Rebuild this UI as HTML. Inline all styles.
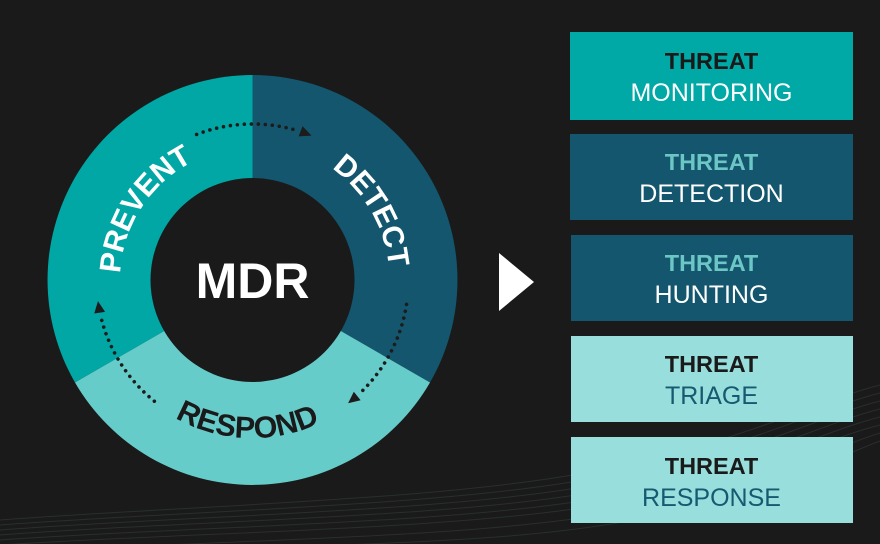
<!DOCTYPE html>
<html><head><meta charset="utf-8"><style>
html,body{margin:0;padding:0;background:#1a1a1a;}
svg{display:block;}
text{font-family:"Liberation Sans",sans-serif;}
</style></head><body>
<svg width="880" height="544" viewBox="0 0 880 544" xmlns="http://www.w3.org/2000/svg">
<rect width="880" height="544" fill="#1a1a1a"/>
<!-- subtle background waves -->
<g fill="none" stroke="#2c3434" stroke-width="1" opacity="0.8">
<path d="M0 520 C200 505 450 500 600 470 S820 400 880 385"/>
<path d="M0 525 C200 510 450 506 600 477 S820 408 880 393"/>
<path d="M0 530 C200 515 450 512 600 484 S820 416 880 401"/>
<path d="M0 535 C200 520 450 518 600 491 S820 424 880 409"/>
<path d="M0 540 C200 526 450 524 600 498 S820 432 880 417"/>
<path d="M0 545 C200 532 450 530 600 505 S820 440 880 425"/>
<path d="M100 548 C300 538 480 536 620 512 S830 448 880 433"/>
<path d="M200 550 C380 543 520 542 640 519 S840 456 880 441"/>
</g>
<!-- ring -->
<path d="M252.5 280 L252.5 75 A205 205 0 0 0 75 382.5 Z" fill="#00a7a5"/>
<path d="M252.5 280 L252.5 75 A205 205 0 0 1 430 382.5 Z" fill="#13566e"/>
<path d="M252.5 280 L75 382.5 A205 205 0 0 0 430 382.5 Z" fill="#66ccca"/>
<circle cx="252.5" cy="280" r="102" fill="#1a1a1a"/>
<defs>
<path id="pPrev" d="M146.7 359.7 A132.5 132.5 0 0 1 282.3 150.9"/>
<path id="pDet" d="M228.7 145.1 A137 137 0 0 1 357.4 368.1"/>
<path id="pResp" d="M102.2 328.8 A158 158 0 0 0 399 339.2"/>
<g id="arrow">
<path d="M196.6 134.4 A156 156 0 0 1 295.5 130.0" fill="none" stroke="#1c1c1c" stroke-width="3.6" stroke-linecap="round" stroke-dasharray="0 7"/>
<path d="M311.5 135.6 L298.6 136.4 L302.6 126.2 Z" fill="#1c1c1c"/>
</g>
</defs>
<text font-size="30" font-weight="bold" fill="#ffffff" letter-spacing="-0.3"><textPath href="#pPrev" startOffset="50%" text-anchor="middle">PREVENT</textPath></text>
<text font-size="30" font-weight="bold" fill="#ffffff" letter-spacing="-0.3"><textPath href="#pDet" startOffset="50%" text-anchor="middle">DETECT</textPath></text>
<text font-size="30.5" font-weight="bold" fill="#1a1a1a"><textPath href="#pResp" startOffset="50%" text-anchor="middle">RESPOND</textPath></text>
<use href="#arrow"/>
<use href="#arrow" transform="rotate(120 252.5 280)"/>
<use href="#arrow" transform="rotate(240 252.5 280)"/>
<text x="252.5" y="298" font-size="50" font-weight="bold" fill="#ffffff" text-anchor="middle">MDR</text>
<!-- triangle -->
<path d="M499 253 L534 282 L499 311 Z" fill="#ffffff"/>
<!-- boxes -->
<rect x="570" y="32" width="283" height="88" fill="#00a9a6"/>
<text x="711.5" y="69" font-size="23.5" font-weight="bold" fill="#1a1a1a" text-anchor="middle">THREAT</text>
<text x="711.5" y="101" font-size="25" fill="#ffffff" text-anchor="middle">MONITORING</text>

<rect x="570" y="134" width="283" height="86" fill="#13566d"/>
<text x="711.5" y="170" font-size="23.5" font-weight="bold" fill="#6cc6c6" text-anchor="middle">THREAT</text>
<text x="711.5" y="202" font-size="25" fill="#ffffff" text-anchor="middle">DETECTION</text>

<rect x="571" y="235" width="282" height="86" fill="#13566d"/>
<text x="711.5" y="271" font-size="23.5" font-weight="bold" fill="#6cc6c6" text-anchor="middle">THREAT</text>
<text x="711.5" y="303" font-size="25" fill="#ffffff" text-anchor="middle">HUNTING</text>

<rect x="571" y="336" width="282" height="86" fill="#97dedc"/>
<text x="711.5" y="372" font-size="23.5" font-weight="bold" fill="#1a1a1a" text-anchor="middle">THREAT</text>
<text x="711.5" y="404" font-size="25" fill="#155a70" text-anchor="middle">TRIAGE</text>

<rect x="571" y="437" width="282" height="86" fill="#97dedc"/>
<text x="711.5" y="474" font-size="23.5" font-weight="bold" fill="#1a1a1a" text-anchor="middle">THREAT</text>
<text x="711.5" y="506" font-size="25" fill="#155a70" text-anchor="middle">RESPONSE</text>
</svg>
</body></html>
